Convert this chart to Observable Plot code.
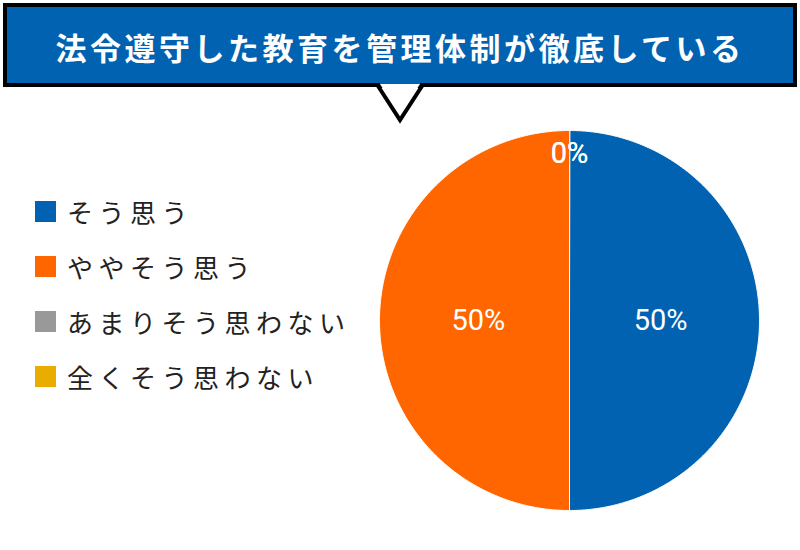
<!DOCTYPE html>
<html>
<head>
<meta charset="utf-8">
<script src="https://cdn.jsdelivr.net/npm/d3@7"></script>
<script src="https://cdn.jsdelivr.net/npm/@observablehq/plot@0.6"></script>
<style>
  html, body { margin: 0; padding: 0; background: #fff; }
  #wrap { position: relative; width: 800px; height: 550px; overflow: hidden; font-family: "Noto Sans CJK JP", "Noto Sans", sans-serif; }
  #chart { position: absolute; left: 0; top: 0; }
  #banner { position: absolute; left: 0; top: 0; }
  #legend { position: absolute; left: 35px; top: 184px; }
  .item { display: flex; align-items: center; height: 55px; }
  .sw { width: 21px; height: 21px; margin-right: 11px; }
  .lab { font-size: 26px; letter-spacing: 5.5px; color: #222; line-height: 1; }
</style>
</head>
<body>
<div id="wrap">
  <div id="chart"></div>
  <svg id="banner" width="800" height="130">
    <polygon points="378,86 400,120 422,86" fill="#fff" stroke="#000" stroke-width="4" stroke-linejoin="miter"/>
    <rect x="5" y="5" width="790" height="80" fill="#0062b1" stroke="#000" stroke-width="4"/>
    <rect x="380" y="80" width="40" height="4" fill="#0062b1"/>
    <polygon points="380,84 400,115 420,84" fill="#fff"/>
    <text id="title" x="400" y="46" text-anchor="middle" dominant-baseline="central" fill="#fff"
      font-family="Noto Sans CJK JP" font-weight="700" font-size="31" letter-spacing="3.5"></text>
  </svg>
  <div id="legend"></div>
</div>
<script>
const title = "法令遵守した教育を管理体制が徹底している";
const categories = ["そう思う", "ややそう思う", "あまりそう思わない", "全くそう思わない"];
const values = [50, 50, 0, 0];
const colors = ["#0062b1", "#ff6600", "#999999", "#e8ad00"];

document.getElementById("title").textContent = title;

// legend
const legend = document.getElementById("legend");
categories.forEach((c, i) => {
  const it = document.createElement("div");
  it.className = "item";
  it.innerHTML = `<div class="sw" style="background:${colors[i]}"></div><div class="lab">${c}</div>`;
  legend.appendChild(it);
});

// pie geometry in unit coordinates (clockwise from top)
const arcs = d3.pie().sort(null)(values);
const polys = [];
arcs.forEach((a, i) => {
  if (a.endAngle - a.startAngle <= 0) return;
  const key = categories[i];
  polys.push({key, x: 0, y: 0});
  const n = Math.max(2, Math.ceil((a.endAngle - a.startAngle) / 0.01));
  for (let k = 0; k <= n; k++) {
    const t = a.startAngle + (a.endAngle - a.startAngle) * k / n;
    polys.push({key, x: Math.sin(t), y: Math.cos(t)});
  }
});
const labels = arcs.map((a, i) => {
  const mid = (a.startAngle + a.endAngle) / 2;
  const r = values[i] === 0 ? 0.88 : 0.48;
  return {key: categories[i], x: r * Math.sin(mid), y: r * Math.cos(mid), text: values[i] + "%"};
});

const plot = Plot.plot({
  width: 800,
  height: 550,
  marginLeft: 379,
  marginRight: 41,
  marginTop: 130,
  marginBottom: 40,
  x: {domain: [-1, 1], axis: null},
  y: {domain: [-1, 1], axis: null},
  color: {domain: categories, range: colors},
  style: {background: "transparent"},
  marks: [
    Plot.line(polys, {x: "x", y: "y", z: "key", fill: "key", stroke: "#fff", strokeWidth: 1, curve: "linear-closed"}),
    Plot.text(labels, {x: "x", y: "y", text: "text", fill: "#fff", fontSize: 29, fontFamily: "Roboto"})
  ]
});
document.getElementById("chart").appendChild(plot);
</script>
</body>
</html>
